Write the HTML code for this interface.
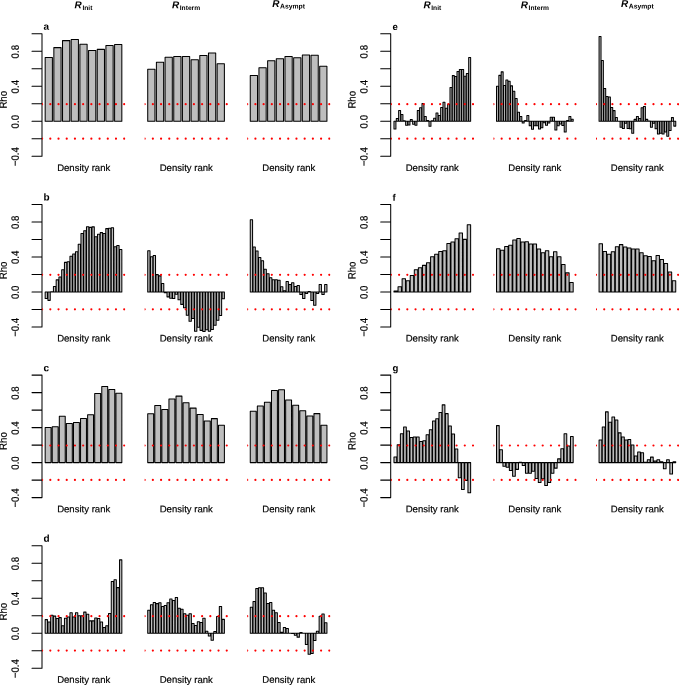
<!DOCTYPE html>
<html><head><meta charset="utf-8"><title>Figure</title>
<style>
html,body{margin:0;padding:0;background:#fff;overflow:hidden}
svg{display:block}
text{font-family:"Liberation Sans",Arial,Helvetica,sans-serif;fill:#000;text-rendering:geometricPrecision;stroke:#000;stroke-width:0.18px}
text[font-weight="bold"]{stroke:none}
</style></head><body>
<svg width="679" height="685" viewBox="0 0 679 685">
<rect width="679" height="685" fill="#fff"/>
<g>
<path d="M45.17 121.3V57.6h7.23V121.3zM53.85 121.3V47.62h7.23V121.3zM62.53 121.3V40.62h7.23V121.3zM71.2 121.3V39.57h7.23V121.3zM79.88 121.3V44.3h7.23V121.3zM88.56 121.3V50.42h7.23V121.3zM97.24 121.3V49.38h7.23V121.3zM105.92 121.3V45.44h7.23V121.3zM114.6 121.3V44.56h7.23V121.3z" fill="#bebebe" stroke="#000" stroke-width="1.03" stroke-linejoin="round"/>
<path d="M42 33.8V156.3M42 156.3H32M42 138.8H32M42 121.3H32M42 103.8H32M42 86.3H32M42 68.8H32M42 51.3H32M42 33.8H32" fill="none" stroke="#000" stroke-width="1.03" stroke-linecap="round"/>
<text transform="translate(18.8 156.7) rotate(-89.96) scale(1 1.09)" text-anchor="middle" font-size="9.65">−0.4</text>
<text transform="translate(18.8 121.7) rotate(-89.96) scale(1 1.09)" text-anchor="middle" font-size="9.65">0.0</text>
<text transform="translate(18.8 86.7) rotate(-89.96) scale(1 1.09)" text-anchor="middle" font-size="9.65">0.4</text>
<text transform="translate(18.8 51.7) rotate(-89.96) scale(1 1.09)" text-anchor="middle" font-size="9.65">0.8</text>
<text transform="translate(6.8 99.75) rotate(-89.96) scale(1 1.09)" text-anchor="middle" font-size="9.65">Rho</text>
<text transform="translate(43.6 29.85) rotate(0.03)" font-size="10" font-weight="bold">a</text>
<clipPath id="c1"><rect x="42.1" y="23.8" width="83.4" height="150"/></clipPath>
<line x1="42.1" x2="126.9" y1="104.16" y2="104.16" stroke="#ff0000" stroke-width="2.2" stroke-linecap="round" stroke-dasharray="0 8.21" clip-path="url(#c1)"/>
<line x1="42.1" x2="126.9" y1="138.64" y2="138.64" stroke="#ff0000" stroke-width="2.2" stroke-linecap="round" stroke-dasharray="0 8.21" clip-path="url(#c1)"/>
<text transform="translate(83.7 170.9) rotate(0.03)" text-anchor="middle" font-size="9.55">Density rank</text>
<text transform="translate(83.5 8.3) rotate(0.03)" text-anchor="middle" font-size="9.95" font-weight="bold"><tspan font-style="italic">R</tspan><tspan font-size="6.7" dy="1.6" dx="0.6">Init</tspan></text>
</g>
<g>
<path d="M147.72 121.3V69.33h7.23V121.3zM156.4 121.3V62.32h7.23V121.3zM165.08 121.3V57.34h7.23V121.3zM173.75 121.3V56.55h7.23V121.3zM182.43 121.3V56.55h7.23V121.3zM191.11 121.3V59.7h7.23V121.3zM199.79 121.3V55.5h7.23V121.3zM208.47 121.3V53.05h7.23V121.3zM217.15 121.3V63.64h7.23V121.3z" fill="#bebebe" stroke="#000" stroke-width="1.03" stroke-linejoin="round"/>
<clipPath id="c2"><rect x="144.65" y="23.8" width="83.4" height="150"/></clipPath>
<line x1="144.65" x2="229.45" y1="104.16" y2="104.16" stroke="#ff0000" stroke-width="2.2" stroke-linecap="round" stroke-dasharray="0 8.21" clip-path="url(#c2)"/>
<line x1="144.65" x2="229.45" y1="138.64" y2="138.64" stroke="#ff0000" stroke-width="2.2" stroke-linecap="round" stroke-dasharray="0 8.21" clip-path="url(#c2)"/>
<text transform="translate(186.25 170.9) rotate(0.03)" text-anchor="middle" font-size="9.55">Density rank</text>
<text transform="translate(186.05 8.3) rotate(0.03)" text-anchor="middle" font-size="9.95" font-weight="bold"><tspan font-style="italic">R</tspan><tspan font-size="6.7" dy="1.6" dx="0.6">Interm</tspan></text>
</g>
<g>
<path d="M250.27 121.3V75.45h7.23V121.3zM258.95 121.3V67.66h7.23V121.3zM267.63 121.3V60.66h7.23V121.3zM276.3 121.3V58.83h7.23V121.3zM284.98 121.3V56.55h7.23V121.3zM293.66 121.3V57.69h7.23V121.3zM302.34 121.3V55.06h7.23V121.3zM311.02 121.3V55.32h7.23V121.3zM319.7 121.3V66.17h7.23V121.3z" fill="#bebebe" stroke="#000" stroke-width="1.03" stroke-linejoin="round"/>
<clipPath id="c3"><rect x="247.2" y="23.8" width="83.4" height="150"/></clipPath>
<line x1="247.2" x2="332" y1="104.16" y2="104.16" stroke="#ff0000" stroke-width="2.2" stroke-linecap="round" stroke-dasharray="0 8.21" clip-path="url(#c3)"/>
<line x1="247.2" x2="332" y1="138.64" y2="138.64" stroke="#ff0000" stroke-width="2.2" stroke-linecap="round" stroke-dasharray="0 8.21" clip-path="url(#c3)"/>
<text transform="translate(288.8 170.9) rotate(0.03)" text-anchor="middle" font-size="9.55">Density rank</text>
<text transform="translate(288.6 6.95) rotate(0.03)" text-anchor="middle" font-size="9.95" font-weight="bold"><tspan font-style="italic">R</tspan><tspan font-size="6.8" dy="1.6" dx="0.6">Asympt</tspan></text>
</g>
<g>
<path d="M45.17 291.96V298.52h2.3V291.96zM47.92 291.96V300.36h2.3V291.96zM50.68 291.96V291.7h2.3V291.96zM53.43 291.96V286.53h2.3V291.96zM56.18 291.96V279.88h2.3V291.96zM58.94 291.96V276.91h2.3V291.96zM61.69 291.96V269.65h2.3V291.96zM64.45 291.96V262.38h2.3V291.96zM67.2 291.96V261.69h2.3V291.96zM69.96 291.96V256.17h2.3V291.96zM72.71 291.96V253.98h2.3V291.96zM75.47 291.96V251.8h2.3V291.96zM78.22 291.96V244.27h2.3V291.96zM80.98 291.96V233.6h2.3V291.96zM83.73 291.96V230.71h2.3V291.96zM86.48 291.96V226.68h2.3V291.96zM89.24 291.96V227.38h2.3V291.96zM91.99 291.96V226.86h2.3V291.96zM94.75 291.96V236.75h2.3V291.96zM97.5 291.96V234.3h2.3V291.96zM100.26 291.96V232.63h2.3V291.96zM103.01 291.96V233.6h2.3V291.96zM105.77 291.96V228.61h2.3V291.96zM108.52 291.96V228.26h2.3V291.96zM111.27 291.96V227.73h2.3V291.96zM114.03 291.96V246.81h2.3V291.96zM116.78 291.96V245.58h2.3V291.96zM119.54 291.96V249.52h2.3V291.96z" fill="#bebebe" stroke="#000" stroke-width="1.03" stroke-linejoin="round"/>
<path d="M42 204.46V326.96M42 326.96H32M42 309.46H32M42 291.96H32M42 274.46H32M42 256.96H32M42 239.46H32M42 221.96H32M42 204.46H32" fill="none" stroke="#000" stroke-width="1.03" stroke-linecap="round"/>
<text transform="translate(18.8 327.36) rotate(-89.96) scale(1 1.09)" text-anchor="middle" font-size="9.65">−0.4</text>
<text transform="translate(18.8 292.36) rotate(-89.96) scale(1 1.09)" text-anchor="middle" font-size="9.65">0.0</text>
<text transform="translate(18.8 257.36) rotate(-89.96) scale(1 1.09)" text-anchor="middle" font-size="9.65">0.4</text>
<text transform="translate(18.8 222.36) rotate(-89.96) scale(1 1.09)" text-anchor="middle" font-size="9.65">0.8</text>
<text transform="translate(6.8 270.41) rotate(-89.96) scale(1 1.09)" text-anchor="middle" font-size="9.65">Rho</text>
<text transform="translate(43.6 200.51) rotate(0.03)" font-size="10" font-weight="bold">b</text>
<clipPath id="c4"><rect x="42.1" y="194.46" width="83.4" height="150"/></clipPath>
<line x1="42.1" x2="126.9" y1="274.82" y2="274.82" stroke="#ff0000" stroke-width="2.2" stroke-linecap="round" stroke-dasharray="0 8.21" clip-path="url(#c4)"/>
<line x1="42.1" x2="126.9" y1="309.3" y2="309.3" stroke="#ff0000" stroke-width="2.2" stroke-linecap="round" stroke-dasharray="0 8.21" clip-path="url(#c4)"/>
<text transform="translate(83.7 341.56) rotate(0.03)" text-anchor="middle" font-size="9.55">Density rank</text>
</g>
<g>
<path d="M147.72 291.96V250.66h2.3V291.96zM150.47 291.96V256.7h2.3V291.96zM153.23 291.96V255.47h2.3V291.96zM155.98 291.96V274.63h2.3V291.96zM158.73 291.96V275.86h2.3V291.96zM161.49 291.96V283.47h2.3V291.96zM164.24 291.96V292.75h2.3V291.96zM167 291.96V296.86h2.3V291.96zM169.75 291.96V298.35h2.3V291.96zM172.51 291.96V298.52h2.3V291.96zM175.26 291.96V294.32h2.3V291.96zM178.02 291.96V299.75h2.3V291.96zM180.77 291.96V304.38h2.3V291.96zM183.53 291.96V307.8h2.3V291.96zM186.28 291.96V315.32h2.3V291.96zM189.03 291.96V321.27h2.3V291.96zM191.79 291.96V318.56h2.3V291.96zM194.54 291.96V331.33h2.3V291.96zM197.3 291.96V327.31h2.3V291.96zM200.05 291.96V330.37h2.3V291.96zM202.81 291.96V331.6h2.3V291.96zM205.56 291.96V329.85h2.3V291.96zM208.32 291.96V331.33h2.3V291.96zM211.07 291.96V329.5h2.3V291.96zM213.82 291.96V325.3h2.3V291.96zM216.58 291.96V320.31h2.3V291.96zM219.33 291.96V315.5h2.3V291.96zM222.09 291.96V298.7h2.3V291.96z" fill="#bebebe" stroke="#000" stroke-width="1.03" stroke-linejoin="round"/>
<clipPath id="c5"><rect x="144.65" y="194.46" width="83.4" height="150"/></clipPath>
<line x1="144.65" x2="229.45" y1="274.82" y2="274.82" stroke="#ff0000" stroke-width="2.2" stroke-linecap="round" stroke-dasharray="0 8.21" clip-path="url(#c5)"/>
<line x1="144.65" x2="229.45" y1="309.3" y2="309.3" stroke="#ff0000" stroke-width="2.2" stroke-linecap="round" stroke-dasharray="0 8.21" clip-path="url(#c5)"/>
<text transform="translate(186.25 341.56) rotate(0.03)" text-anchor="middle" font-size="9.55">Density rank</text>
</g>
<g>
<path d="M250.27 291.96V219.68h2.3V291.96zM253.02 291.96V246.9h2.3V291.96zM255.78 291.96V251.1h2.3V291.96zM258.53 291.96V257.57h2.3V291.96zM261.28 291.96V260.72h2.3V291.96zM264.04 291.96V269.3h2.3V291.96zM266.79 291.96V273.67h2.3V291.96zM269.55 291.96V277.78h2.3V291.96zM272.3 291.96V279.71h2.3V291.96zM275.06 291.96V279.71h2.3V291.96zM277.81 291.96V280.15h2.3V291.96zM280.57 291.96V286.8h2.3V291.96zM283.32 291.96V290.82h2.3V291.96zM286.08 291.96V281.55h2.3V291.96zM288.83 291.96V284.52h2.3V291.96zM291.58 291.96V282.69h2.3V291.96zM294.34 291.96V286.53h2.3V291.96zM297.09 291.96V285.57h2.3V291.96zM299.85 291.96V294.41h2.3V291.96zM302.6 291.96V298.44h2.3V291.96zM305.36 291.96V293.53h2.3V291.96zM308.11 291.96V291.43h2.3V291.96zM310.87 291.96V300.45h2.3V291.96zM313.62 291.96V305.26h2.3V291.96zM316.37 291.96V293.53h2.3V291.96zM319.13 291.96V284.52h2.3V291.96zM321.88 291.96V294.41h2.3V291.96zM324.64 291.96V284.52h2.3V291.96z" fill="#bebebe" stroke="#000" stroke-width="1.03" stroke-linejoin="round"/>
<clipPath id="c6"><rect x="247.2" y="194.46" width="83.4" height="150"/></clipPath>
<line x1="247.2" x2="332" y1="274.82" y2="274.82" stroke="#ff0000" stroke-width="2.2" stroke-linecap="round" stroke-dasharray="0 8.21" clip-path="url(#c6)"/>
<line x1="247.2" x2="332" y1="309.3" y2="309.3" stroke="#ff0000" stroke-width="2.2" stroke-linecap="round" stroke-dasharray="0 8.21" clip-path="url(#c6)"/>
<text transform="translate(288.8 341.56) rotate(0.03)" text-anchor="middle" font-size="9.55">Density rank</text>
</g>
<g>
<path d="M45.17 462.62V427.53h5.9V462.62zM52.24 462.62V426.83h5.9V462.62zM59.32 462.62V416.16h5.9V462.62zM66.4 462.62V423.51h5.9V462.62zM73.47 462.62V422.55h5.9V462.62zM80.55 462.62V418.52h5.9V462.62zM87.63 462.62V414.85h5.9V462.62zM94.71 462.62V393.5h5.9V462.62zM101.78 462.62V386.5h5.9V462.62zM108.86 462.62V389.47h5.9V462.62zM115.94 462.62V393.14h5.9V462.62z" fill="#bebebe" stroke="#000" stroke-width="1.03" stroke-linejoin="round"/>
<path d="M42 375.12V497.62M42 497.62H32M42 480.12H32M42 462.62H32M42 445.12H32M42 427.62H32M42 410.12H32M42 392.62H32M42 375.12H32" fill="none" stroke="#000" stroke-width="1.03" stroke-linecap="round"/>
<text transform="translate(18.8 498.02) rotate(-89.96) scale(1 1.09)" text-anchor="middle" font-size="9.65">−0.4</text>
<text transform="translate(18.8 463.02) rotate(-89.96) scale(1 1.09)" text-anchor="middle" font-size="9.65">0.0</text>
<text transform="translate(18.8 428.02) rotate(-89.96) scale(1 1.09)" text-anchor="middle" font-size="9.65">0.4</text>
<text transform="translate(18.8 393.02) rotate(-89.96) scale(1 1.09)" text-anchor="middle" font-size="9.65">0.8</text>
<text transform="translate(6.8 441.07) rotate(-89.96) scale(1 1.09)" text-anchor="middle" font-size="9.65">Rho</text>
<text transform="translate(43.6 371.17) rotate(0.03)" font-size="10" font-weight="bold">c</text>
<clipPath id="c7"><rect x="42.1" y="365.12" width="83.4" height="150"/></clipPath>
<line x1="42.1" x2="126.9" y1="445.48" y2="445.48" stroke="#ff0000" stroke-width="2.2" stroke-linecap="round" stroke-dasharray="0 8.21" clip-path="url(#c7)"/>
<line x1="42.1" x2="126.9" y1="479.96" y2="479.96" stroke="#ff0000" stroke-width="2.2" stroke-linecap="round" stroke-dasharray="0 8.21" clip-path="url(#c7)"/>
<text transform="translate(83.7 512.22) rotate(0.03)" text-anchor="middle" font-size="9.55">Density rank</text>
</g>
<g>
<path d="M147.72 462.62V413.8h5.9V462.62zM154.79 462.62V405.57h5.9V462.62zM161.87 462.62V409.6h5.9V462.62zM168.95 462.62V399.1h5.9V462.62zM176.02 462.62V396.12h5.9V462.62zM183.1 462.62V402.77h5.9V462.62zM190.18 462.62V408.11h5.9V462.62zM197.26 462.62V414.58h5.9V462.62zM204.33 462.62V420.97h5.9V462.62zM211.41 462.62V418.61h5.9V462.62zM218.49 462.62V425.26h5.9V462.62z" fill="#bebebe" stroke="#000" stroke-width="1.03" stroke-linejoin="round"/>
<clipPath id="c8"><rect x="144.65" y="365.12" width="83.4" height="150"/></clipPath>
<line x1="144.65" x2="229.45" y1="445.48" y2="445.48" stroke="#ff0000" stroke-width="2.2" stroke-linecap="round" stroke-dasharray="0 8.21" clip-path="url(#c8)"/>
<line x1="144.65" x2="229.45" y1="479.96" y2="479.96" stroke="#ff0000" stroke-width="2.2" stroke-linecap="round" stroke-dasharray="0 8.21" clip-path="url(#c8)"/>
<text transform="translate(186.25 512.22) rotate(0.03)" text-anchor="middle" font-size="9.55">Density rank</text>
</g>
<g>
<path d="M250.27 462.62V411.26h5.9V462.62zM257.34 462.62V406.1h5.9V462.62zM264.42 462.62V402.25h5.9V462.62zM271.5 462.62V390.43h5.9V462.62zM278.57 462.62V389.64h5.9V462.62zM285.65 462.62V399.97h5.9V462.62zM292.73 462.62V405.31h5.9V462.62zM299.81 462.62V410.73h5.9V462.62zM306.88 462.62V416.07h5.9V462.62zM313.96 462.62V413.62h5.9V462.62zM321.04 462.62V425.26h5.9V462.62z" fill="#bebebe" stroke="#000" stroke-width="1.03" stroke-linejoin="round"/>
<clipPath id="c9"><rect x="247.2" y="365.12" width="83.4" height="150"/></clipPath>
<line x1="247.2" x2="332" y1="445.48" y2="445.48" stroke="#ff0000" stroke-width="2.2" stroke-linecap="round" stroke-dasharray="0 8.21" clip-path="url(#c9)"/>
<line x1="247.2" x2="332" y1="479.96" y2="479.96" stroke="#ff0000" stroke-width="2.2" stroke-linecap="round" stroke-dasharray="0 8.21" clip-path="url(#c9)"/>
<text transform="translate(288.8 512.22) rotate(0.03)" text-anchor="middle" font-size="9.55">Density rank</text>
</g>
<g>
<path d="M45.17 633.28V619.63h2.3V633.28zM47.92 633.28V621.99h2.3V633.28zM50.68 633.28V615.25h2.3V633.28zM53.43 633.28V616.13h2.3V633.28zM56.18 633.28V618.58h2.3V633.28zM58.94 633.28V617.62h2.3V633.28zM61.69 633.28V625.75h2.3V633.28zM64.45 633.28V618.32h2.3V633.28zM67.2 633.28V617h2.3V633.28zM69.96 633.28V612.8h2.3V633.28zM72.71 633.28V617h2.3V633.28zM75.47 633.28V612.72h2.3V633.28zM78.22 633.28V615.69h2.3V633.28zM80.98 633.28V615.69h2.3V633.28zM83.73 633.28V612.11h2.3V633.28zM86.48 633.28V614.2h2.3V633.28zM89.24 633.28V620.86h2.3V633.28zM91.99 633.28V620.86h2.3V633.28zM94.75 633.28V617.97h2.3V633.28zM97.5 633.28V618.58h2.3V633.28zM100.26 633.28V621.99h2.3V633.28zM103.01 633.28V627.59h2.3V633.28zM105.77 633.28V625.84h2.3V633.28zM108.52 633.28V613.59h2.3V633.28zM111.27 633.28V581.57h2.3V633.28zM114.03 633.28V579.73h2.3V633.28zM116.78 633.28V587.61h2.3V633.28zM119.54 633.28V559.87h2.3V633.28z" fill="#bebebe" stroke="#000" stroke-width="1.03" stroke-linejoin="round"/>
<path d="M42 545.78V668.28M42 668.28H32M42 650.78H32M42 633.28H32M42 615.78H32M42 598.28H32M42 580.78H32M42 563.28H32M42 545.78H32" fill="none" stroke="#000" stroke-width="1.03" stroke-linecap="round"/>
<text transform="translate(18.8 668.68) rotate(-89.96) scale(1 1.09)" text-anchor="middle" font-size="9.65">−0.4</text>
<text transform="translate(18.8 633.68) rotate(-89.96) scale(1 1.09)" text-anchor="middle" font-size="9.65">0.0</text>
<text transform="translate(18.8 598.68) rotate(-89.96) scale(1 1.09)" text-anchor="middle" font-size="9.65">0.4</text>
<text transform="translate(18.8 563.68) rotate(-89.96) scale(1 1.09)" text-anchor="middle" font-size="9.65">0.8</text>
<text transform="translate(6.8 611.73) rotate(-89.96) scale(1 1.09)" text-anchor="middle" font-size="9.65">Rho</text>
<text transform="translate(43.6 541.83) rotate(0.03)" font-size="10" font-weight="bold">d</text>
<clipPath id="c10"><rect x="42.1" y="535.78" width="83.4" height="150"/></clipPath>
<line x1="42.1" x2="126.9" y1="616.14" y2="616.14" stroke="#ff0000" stroke-width="2.2" stroke-linecap="round" stroke-dasharray="0 8.21" clip-path="url(#c10)"/>
<line x1="42.1" x2="126.9" y1="650.62" y2="650.62" stroke="#ff0000" stroke-width="2.2" stroke-linecap="round" stroke-dasharray="0 8.21" clip-path="url(#c10)"/>
<text transform="translate(83.7 682.88) rotate(0.03)" text-anchor="middle" font-size="9.55">Density rank</text>
</g>
<g>
<path d="M147.72 633.28V610.27h2.3V633.28zM150.47 633.28V604.67h2.3V633.28zM153.23 633.28V602.39h2.3V633.28zM155.98 633.28V603.62h2.3V633.28zM158.73 633.28V602.74h2.3V633.28zM161.49 633.28V606.42h2.3V633.28zM164.24 633.28V605.54h2.3V633.28zM167 633.28V602.74h2.3V633.28zM169.75 633.28V598.89h2.3V633.28zM172.51 633.28V600.55h2.3V633.28zM175.26 633.28V597.4h2.3V633.28zM178.02 633.28V608.25h2.3V633.28zM180.77 633.28V609.3h2.3V633.28zM183.53 633.28V613.68h2.3V633.28zM186.28 633.28V615.34h2.3V633.28zM189.03 633.28V613.68h2.3V633.28zM191.79 633.28V623.48h2.3V633.28zM194.54 633.28V625.58h2.3V633.28zM197.3 633.28V621.64h2.3V633.28zM200.05 633.28V622.52h2.3V633.28zM202.81 633.28V618.32h2.3V633.28zM205.56 633.28V631.27h2.3V633.28zM208.32 633.28V635.9h2.3V633.28zM211.07 633.28V640.28h2.3V633.28zM213.82 633.28V631.53h2.3V633.28zM216.58 633.28V616.48h2.3V633.28zM219.33 633.28V606.5h2.3V633.28zM222.09 633.28V619.37h2.3V633.28z" fill="#bebebe" stroke="#000" stroke-width="1.03" stroke-linejoin="round"/>
<clipPath id="c11"><rect x="144.65" y="535.78" width="83.4" height="150"/></clipPath>
<line x1="144.65" x2="229.45" y1="616.14" y2="616.14" stroke="#ff0000" stroke-width="2.2" stroke-linecap="round" stroke-dasharray="0 8.21" clip-path="url(#c11)"/>
<line x1="144.65" x2="229.45" y1="650.62" y2="650.62" stroke="#ff0000" stroke-width="2.2" stroke-linecap="round" stroke-dasharray="0 8.21" clip-path="url(#c11)"/>
<text transform="translate(186.25 682.88) rotate(0.03)" text-anchor="middle" font-size="9.55">Density rank</text>
</g>
<g>
<path d="M250.27 633.28V607.2h2.3V633.28zM253.02 633.28V601.43h2.3V633.28zM255.78 633.28V588.57h2.3V633.28zM258.53 633.28V587.69h2.3V633.28zM261.28 633.28V587.69h2.3V633.28zM264.04 633.28V592.94h2.3V633.28zM266.79 633.28V603.44h2.3V633.28zM269.55 633.28V602.39h2.3V633.28zM272.3 633.28V610.27h2.3V633.28zM275.06 633.28V612.72h2.3V633.28zM277.81 633.28V622.52h2.3V633.28zM280.57 633.28V632.14h2.3V633.28zM283.32 633.28V627.5h2.3V633.28zM286.08 633.28V628.47h2.3V633.28zM288.83 633.28V633.28h2.3V633.28zM291.58 633.28V633.54h2.3V633.28zM294.34 633.28V635.29h2.3V633.28zM297.09 633.28V637.13h2.3V633.28zM299.85 633.28V632.4h2.3V633.28zM302.6 633.28V633.28h2.3V633.28zM305.36 633.28V644.48h2.3V633.28zM308.11 633.28V654.28h2.3V633.28zM310.87 633.28V653.49h2.3V633.28zM313.62 633.28V640.45h2.3V633.28zM316.37 633.28V631.27h2.3V633.28zM319.13 633.28V616.22h2.3V633.28zM321.88 633.28V614.03h2.3V633.28zM324.64 633.28V622.69h2.3V633.28z" fill="#bebebe" stroke="#000" stroke-width="1.03" stroke-linejoin="round"/>
<clipPath id="c12"><rect x="247.2" y="535.78" width="83.4" height="150"/></clipPath>
<line x1="247.2" x2="332" y1="616.14" y2="616.14" stroke="#ff0000" stroke-width="2.2" stroke-linecap="round" stroke-dasharray="0 8.21" clip-path="url(#c12)"/>
<line x1="247.2" x2="332" y1="650.62" y2="650.62" stroke="#ff0000" stroke-width="2.2" stroke-linecap="round" stroke-dasharray="0 8.21" clip-path="url(#c12)"/>
<text transform="translate(288.8 682.88) rotate(0.03)" text-anchor="middle" font-size="9.55">Density rank</text>
</g>
<g>
<path d="M393.97 121.3V129h1.95V121.3zM396.3 121.3V118.5h1.95V121.3zM398.64 121.3V110.54h1.95V121.3zM400.97 121.3V114.56h1.95V121.3zM403.31 121.3V120.77h1.95V121.3zM405.64 121.3V125.15h1.95V121.3zM407.98 121.3V124.97h1.95V121.3zM410.31 121.3V119.55h1.95V121.3zM412.65 121.3V124.28h1.95V121.3zM414.98 121.3V125.15h1.95V121.3zM417.32 121.3V110.54h1.95V121.3zM419.65 121.3V107.65h1.95V121.3zM421.99 121.3V103.62h1.95V121.3zM424.32 121.3V116.4h1.95V121.3zM426.66 121.3V120.51h1.95V121.3zM428.99 121.3V126.2h1.95V121.3zM431.33 121.3V120.69h1.95V121.3zM433.66 121.3V118.32h1.95V121.3zM436 121.3V112.99h1.95V121.3zM438.33 121.3V115.52h1.95V121.3zM440.67 121.3V107.39h1.95V121.3zM443 121.3V102.22h1.95V121.3zM445.34 121.3V108.26h1.95V121.3zM447.67 121.3V104.24h1.95V121.3zM450.01 121.3V87.53h1.95V121.3zM452.34 121.3V75.62h1.95V121.3zM454.68 121.3V76.59h1.95V121.3zM457.01 121.3V71.6h1.95V121.3zM459.35 121.3V69.59h1.95V121.3zM461.68 121.3V69.59h1.95V121.3zM464.02 121.3V76.24h1.95V121.3zM466.35 121.3V73.44h1.95V121.3zM468.69 121.3V57.51h1.95V121.3z" fill="#bebebe" stroke="#000" stroke-width="1.03" stroke-linejoin="round"/>
<path d="M390.7 33.8V156.3M390.7 156.3H380.7M390.7 138.8H380.7M390.7 121.3H380.7M390.7 103.8H380.7M390.7 86.3H380.7M390.7 68.8H380.7M390.7 51.3H380.7M390.7 33.8H380.7" fill="none" stroke="#000" stroke-width="1.03" stroke-linecap="round"/>
<text transform="translate(367.4 156.7) rotate(-89.96) scale(1 1.09)" text-anchor="middle" font-size="9.65">−0.4</text>
<text transform="translate(367.4 121.7) rotate(-89.96) scale(1 1.09)" text-anchor="middle" font-size="9.65">0.0</text>
<text transform="translate(367.4 86.7) rotate(-89.96) scale(1 1.09)" text-anchor="middle" font-size="9.65">0.4</text>
<text transform="translate(367.4 51.7) rotate(-89.96) scale(1 1.09)" text-anchor="middle" font-size="9.65">0.8</text>
<text transform="translate(355.6 99.75) rotate(-89.96) scale(1 1.09)" text-anchor="middle" font-size="9.65">Rho</text>
<text transform="translate(392.4 30) rotate(0.03)" font-size="9.6" font-weight="bold">e</text>
<clipPath id="c13"><rect x="390.9" y="23.8" width="83.4" height="150"/></clipPath>
<line x1="390.9" x2="475.7" y1="104.16" y2="104.16" stroke="#ff0000" stroke-width="2.2" stroke-linecap="round" stroke-dasharray="0 8.21" clip-path="url(#c13)"/>
<line x1="390.9" x2="475.7" y1="138.64" y2="138.64" stroke="#ff0000" stroke-width="2.2" stroke-linecap="round" stroke-dasharray="0 8.21" clip-path="url(#c13)"/>
<text transform="translate(432.25 170.9) rotate(0.03)" text-anchor="middle" font-size="9.55">Density rank</text>
<text transform="translate(432.3 8.3) rotate(0.03)" text-anchor="middle" font-size="9.95" font-weight="bold"><tspan font-style="italic">R</tspan><tspan font-size="6.7" dy="1.6" dx="0.6">Init</tspan></text>
</g>
<g>
<path d="M496.52 121.3V86.3h1.95V121.3zM498.85 121.3V75.36h1.95V121.3zM501.19 121.3V71.86h1.95V121.3zM503.52 121.3V85.43h1.95V121.3zM505.86 121.3V80h1.95V121.3zM508.19 121.3V81.22h1.95V121.3zM510.53 121.3V85.86h1.95V121.3zM512.86 121.3V91.29h1.95V121.3zM515.2 121.3V98.46h1.95V121.3zM517.53 121.3V112.29h1.95V121.3zM519.87 121.3V116.4h1.95V121.3zM522.2 121.3V122.96h1.95V121.3zM524.54 121.3V120.51h1.95V121.3zM526.87 121.3V115.52h1.95V121.3zM529.21 121.3V125.85h1.95V121.3zM531.54 121.3V129.35h1.95V121.3zM533.88 121.3V125.85h1.95V121.3zM536.21 121.3V125.85h1.95V121.3zM538.55 121.3V129h1.95V121.3zM540.88 121.3V127.69h1.95V121.3zM543.22 121.3V122.7h1.95V121.3zM545.55 121.3V125.15h1.95V121.3zM547.89 121.3V123.05h1.95V121.3zM550.22 121.3V117.27h1.95V121.3zM552.56 121.3V117.27h1.95V121.3zM554.89 121.3V129.96h1.95V121.3zM557.23 121.3V125.85h1.95V121.3zM559.56 121.3V123.92h1.95V121.3zM561.9 121.3V125.41h1.95V121.3zM564.23 121.3V131.89h1.95V121.3zM566.57 121.3V120.51h1.95V121.3zM568.9 121.3V116.4h1.95V121.3zM571.24 121.3V119.29h1.95V121.3z" fill="#bebebe" stroke="#000" stroke-width="1.03" stroke-linejoin="round"/>
<clipPath id="c14"><rect x="493.45" y="23.8" width="83.4" height="150"/></clipPath>
<line x1="493.45" x2="578.25" y1="104.16" y2="104.16" stroke="#ff0000" stroke-width="2.2" stroke-linecap="round" stroke-dasharray="0 8.21" clip-path="url(#c14)"/>
<line x1="493.45" x2="578.25" y1="138.64" y2="138.64" stroke="#ff0000" stroke-width="2.2" stroke-linecap="round" stroke-dasharray="0 8.21" clip-path="url(#c14)"/>
<text transform="translate(534.8 170.9) rotate(0.03)" text-anchor="middle" font-size="9.55">Density rank</text>
<text transform="translate(534.85 8.3) rotate(0.03)" text-anchor="middle" font-size="9.95" font-weight="bold"><tspan font-style="italic">R</tspan><tspan font-size="6.7" dy="1.6" dx="0.6">Interm</tspan></text>
</g>
<g>
<path d="M599.07 121.3V36.6h1.95V121.3zM601.4 121.3V60.58h1.95V121.3zM603.74 121.3V88.4h1.95V121.3zM606.07 121.3V96.54h1.95V121.3zM608.41 121.3V96.97h1.95V121.3zM610.74 121.3V107.47h1.95V121.3zM613.08 121.3V110.62h1.95V121.3zM615.41 121.3V117.54h1.95V121.3zM617.75 121.3V121.3h1.95V121.3zM620.08 121.3V127.34h1.95V121.3zM622.42 121.3V128.56h1.95V121.3zM624.75 121.3V123.31h1.95V121.3zM627.09 121.3V128.56h1.95V121.3zM629.42 121.3V128.82h1.95V121.3zM631.76 121.3V133.2h1.95V121.3zM634.09 121.3V119.38h1.95V121.3zM636.43 121.3V116.4h1.95V121.3zM638.76 121.3V118.5h1.95V121.3zM641.1 121.3V107.65h1.95V121.3zM643.43 121.3V106.6h1.95V121.3zM645.77 121.3V119.38h1.95V121.3zM648.1 121.3V120.95h1.95V121.3zM650.44 121.3V127.34h1.95V121.3zM652.77 121.3V123.31h1.95V121.3zM655.11 121.3V128.82h1.95V121.3zM657.44 121.3V133.99h1.95V121.3zM659.78 121.3V133.2h1.95V121.3zM662.11 121.3V133.99h1.95V121.3zM664.45 121.3V131.97h1.95V121.3zM666.78 121.3V136.35h1.95V121.3zM669.12 121.3V130.49h1.95V121.3zM671.45 121.3V117.62h1.95V121.3zM673.79 121.3V126.11h1.95V121.3z" fill="#bebebe" stroke="#000" stroke-width="1.03" stroke-linejoin="round"/>
<clipPath id="c15"><rect x="596" y="23.8" width="83.4" height="150"/></clipPath>
<line x1="596" x2="680.8" y1="104.16" y2="104.16" stroke="#ff0000" stroke-width="2.2" stroke-linecap="round" stroke-dasharray="0 8.21" clip-path="url(#c15)"/>
<line x1="596" x2="680.8" y1="138.64" y2="138.64" stroke="#ff0000" stroke-width="2.2" stroke-linecap="round" stroke-dasharray="0 8.21" clip-path="url(#c15)"/>
<text transform="translate(637.35 170.9) rotate(0.03)" text-anchor="middle" font-size="9.55">Density rank</text>
<text transform="translate(637.4 6.95) rotate(0.03)" text-anchor="middle" font-size="9.95" font-weight="bold"><tspan font-style="italic">R</tspan><tspan font-size="6.8" dy="1.6" dx="0.6">Asympt</tspan></text>
</g>
<g>
<path d="M393.97 291.96V291h3.39V291.96zM398.04 291.96V286.71h3.39V291.96zM402.11 291.96V278.75h3.39V291.96zM406.18 291.96V280.67h3.39V291.96zM410.25 291.96V275.42h3.39V291.96zM414.32 291.96V269.65h3.39V291.96zM418.39 291.96V267.72h3.39V291.96zM422.46 291.96V265.36h3.39V291.96zM426.53 291.96V262.82h3.39V291.96zM430.6 291.96V256.78h3.39V291.96zM434.67 291.96V254.33h3.39V291.96zM438.75 291.96V251.45h3.39V291.96zM442.82 291.96V250.75h3.39V291.96zM446.89 291.96V243.4h3.39V291.96zM450.96 291.96V242h3.39V291.96zM455.03 291.96V238.85h3.39V291.96zM459.1 291.96V232.98h3.39V291.96zM463.17 291.96V239.37h3.39V291.96zM467.24 291.96V224.76h3.39V291.96z" fill="#bebebe" stroke="#000" stroke-width="1.03" stroke-linejoin="round"/>
<path d="M390.7 204.46V326.96M390.7 326.96H380.7M390.7 309.46H380.7M390.7 291.96H380.7M390.7 274.46H380.7M390.7 256.96H380.7M390.7 239.46H380.7M390.7 221.96H380.7M390.7 204.46H380.7" fill="none" stroke="#000" stroke-width="1.03" stroke-linecap="round"/>
<text transform="translate(367.4 327.36) rotate(-89.96) scale(1 1.09)" text-anchor="middle" font-size="9.65">−0.4</text>
<text transform="translate(367.4 292.36) rotate(-89.96) scale(1 1.09)" text-anchor="middle" font-size="9.65">0.0</text>
<text transform="translate(367.4 257.36) rotate(-89.96) scale(1 1.09)" text-anchor="middle" font-size="9.65">0.4</text>
<text transform="translate(367.4 222.36) rotate(-89.96) scale(1 1.09)" text-anchor="middle" font-size="9.65">0.8</text>
<text transform="translate(355.6 270.41) rotate(-89.96) scale(1 1.09)" text-anchor="middle" font-size="9.65">Rho</text>
<text transform="translate(392.4 200.66) rotate(0.03)" font-size="9.6" font-weight="bold">f</text>
<clipPath id="c16"><rect x="390.9" y="194.46" width="83.4" height="150"/></clipPath>
<line x1="390.9" x2="475.7" y1="274.82" y2="274.82" stroke="#ff0000" stroke-width="2.2" stroke-linecap="round" stroke-dasharray="0 8.21" clip-path="url(#c16)"/>
<line x1="390.9" x2="475.7" y1="309.3" y2="309.3" stroke="#ff0000" stroke-width="2.2" stroke-linecap="round" stroke-dasharray="0 8.21" clip-path="url(#c16)"/>
<text transform="translate(432.25 341.56) rotate(0.03)" text-anchor="middle" font-size="9.55">Density rank</text>
</g>
<g>
<path d="M496.52 291.96V248.65h3.39V291.96zM500.59 291.96V250.31h3.39V291.96zM504.66 291.96V246.55h3.39V291.96zM508.73 291.96V245.23h3.39V291.96zM512.8 291.96V240.07h3.39V291.96zM516.87 291.96V238.58h3.39V291.96zM520.94 291.96V242.08h3.39V291.96zM525.01 291.96V241.73h3.39V291.96zM529.08 291.96V243.92h3.39V291.96zM533.15 291.96V243.92h3.39V291.96zM537.22 291.96V248.91h3.39V291.96zM541.3 291.96V252.67h3.39V291.96zM545.37 291.96V250.75h3.39V291.96zM549.44 291.96V256.78h3.39V291.96zM553.51 291.96V251.8h3.39V291.96zM557.58 291.96V256.78h3.39V291.96zM561.65 291.96V264.57h3.39V291.96zM565.72 291.96V272.88h3.39V291.96zM569.79 291.96V282.51h3.39V291.96z" fill="#bebebe" stroke="#000" stroke-width="1.03" stroke-linejoin="round"/>
<clipPath id="c17"><rect x="493.45" y="194.46" width="83.4" height="150"/></clipPath>
<line x1="493.45" x2="578.25" y1="274.82" y2="274.82" stroke="#ff0000" stroke-width="2.2" stroke-linecap="round" stroke-dasharray="0 8.21" clip-path="url(#c17)"/>
<line x1="493.45" x2="578.25" y1="309.3" y2="309.3" stroke="#ff0000" stroke-width="2.2" stroke-linecap="round" stroke-dasharray="0 8.21" clip-path="url(#c17)"/>
<text transform="translate(534.8 341.56) rotate(0.03)" text-anchor="middle" font-size="9.55">Density rank</text>
</g>
<g>
<path d="M599.07 291.96V243.66h3.39V291.96zM603.14 291.96V251.53h3.39V291.96zM607.21 291.96V254.33h3.39V291.96zM611.28 291.96V251.8h3.39V291.96zM615.35 291.96V246.81h3.39V291.96zM619.42 291.96V244.62h3.39V291.96zM623.49 291.96V246.98h3.39V291.96zM627.56 291.96V248.03h3.39V291.96zM631.63 291.96V248.91h3.39V291.96zM635.7 291.96V248.91h3.39V291.96zM639.77 291.96V252.76h3.39V291.96zM643.85 291.96V255.82h3.39V291.96zM647.92 291.96V256.43h3.39V291.96zM651.99 291.96V260.81h3.39V291.96zM656.06 291.96V255.56h3.39V291.96zM660.13 291.96V259.58h3.39V291.96zM664.2 291.96V263.43h3.39V291.96zM668.27 291.96V272.1h3.39V291.96zM672.34 291.96V280.85h3.39V291.96z" fill="#bebebe" stroke="#000" stroke-width="1.03" stroke-linejoin="round"/>
<clipPath id="c18"><rect x="596" y="194.46" width="83.4" height="150"/></clipPath>
<line x1="596" x2="680.8" y1="274.82" y2="274.82" stroke="#ff0000" stroke-width="2.2" stroke-linecap="round" stroke-dasharray="0 8.21" clip-path="url(#c18)"/>
<line x1="596" x2="680.8" y1="309.3" y2="309.3" stroke="#ff0000" stroke-width="2.2" stroke-linecap="round" stroke-dasharray="0 8.21" clip-path="url(#c18)"/>
<text transform="translate(637.35 341.56) rotate(0.03)" text-anchor="middle" font-size="9.55">Density rank</text>
</g>
<g>
<path d="M393.97 462.62V456.93h2.68V462.62zM397.18 462.62V444.77h2.68V462.62zM400.4 462.62V433.83h2.68V462.62zM403.62 462.62V427.01h2.68V462.62zM406.83 462.62V430.94h2.68V462.62zM410.05 462.62V437.6h2.68V462.62zM413.27 462.62V436.89h2.68V462.62zM416.48 462.62V436.89h2.68V462.62zM419.7 462.62V441.44h2.68V462.62zM422.92 462.62V440.75h2.68V462.62zM426.13 462.62V434.71h2.68V462.62zM429.35 462.62V429.72h2.68V462.62zM432.57 462.62V420.97h2.68V462.62zM435.78 462.62V418.78h2.68V462.62zM439 462.62V412.57h2.68V462.62zM442.22 462.62V404.87h2.68V462.62zM445.44 462.62V413.62h2.68V462.62zM448.65 462.62V425.96h2.68V462.62zM451.87 462.62V434.1h2.68V462.62zM455.09 462.62V448.97h2.68V462.62zM458.3 462.62V477.67h2.68V462.62zM461.52 462.62V489.57h2.68V462.62zM464.74 462.62V480.38h2.68V462.62zM467.95 462.62V492.72h2.68V462.62z" fill="#bebebe" stroke="#000" stroke-width="1.03" stroke-linejoin="round"/>
<path d="M390.7 375.12V497.62M390.7 497.62H380.7M390.7 480.12H380.7M390.7 462.62H380.7M390.7 445.12H380.7M390.7 427.62H380.7M390.7 410.12H380.7M390.7 392.62H380.7M390.7 375.12H380.7" fill="none" stroke="#000" stroke-width="1.03" stroke-linecap="round"/>
<text transform="translate(367.4 498.02) rotate(-89.96) scale(1 1.09)" text-anchor="middle" font-size="9.65">−0.4</text>
<text transform="translate(367.4 463.02) rotate(-89.96) scale(1 1.09)" text-anchor="middle" font-size="9.65">0.0</text>
<text transform="translate(367.4 428.02) rotate(-89.96) scale(1 1.09)" text-anchor="middle" font-size="9.65">0.4</text>
<text transform="translate(367.4 393.02) rotate(-89.96) scale(1 1.09)" text-anchor="middle" font-size="9.65">0.8</text>
<text transform="translate(355.6 441.07) rotate(-89.96) scale(1 1.09)" text-anchor="middle" font-size="9.65">Rho</text>
<text transform="translate(392.4 371.32) rotate(0.03)" font-size="9.6" font-weight="bold">g</text>
<clipPath id="c19"><rect x="390.9" y="365.12" width="83.4" height="150"/></clipPath>
<line x1="390.9" x2="475.7" y1="445.48" y2="445.48" stroke="#ff0000" stroke-width="2.2" stroke-linecap="round" stroke-dasharray="0 8.21" clip-path="url(#c19)"/>
<line x1="390.9" x2="475.7" y1="479.96" y2="479.96" stroke="#ff0000" stroke-width="2.2" stroke-linecap="round" stroke-dasharray="0 8.21" clip-path="url(#c19)"/>
<text transform="translate(432.25 512.22) rotate(0.03)" text-anchor="middle" font-size="9.55">Density rank</text>
</g>
<g>
<path d="M496.52 462.62V425.61h2.68V462.62zM499.73 462.62V449.67h2.68V462.62zM502.95 462.62V466.3h2.68V462.62zM506.17 462.62V467.26h2.68V462.62zM509.38 462.62V470.41h2.68V462.62zM512.6 462.62V476.27h2.68V462.62zM515.82 462.62V469.36h2.68V462.62zM519.03 462.62V462.18h2.68V462.62zM522.25 462.62V465.42h2.68V462.62zM525.47 462.62V473.29h2.68V462.62zM528.68 462.62V473.29h2.68V462.62zM531.9 462.62V471.28h2.68V462.62zM535.12 462.62V478.55h2.68V462.62zM538.33 462.62V482.57h2.68V462.62zM541.55 462.62V478.81h2.68V462.62zM544.77 462.62V485.46h2.68V462.62zM547.99 462.62V482.57h2.68V462.62zM551.2 462.62V473.29h2.68V462.62zM554.42 462.62V468.13h2.68V462.62zM557.64 462.62V458.86h2.68V462.62zM560.85 462.62V448.71h2.68V462.62zM564.07 462.62V433.66h2.68V462.62zM567.29 462.62V445.91h2.68V462.62zM570.5 462.62V436.55h2.68V462.62z" fill="#bebebe" stroke="#000" stroke-width="1.03" stroke-linejoin="round"/>
<clipPath id="c20"><rect x="493.45" y="365.12" width="83.4" height="150"/></clipPath>
<line x1="493.45" x2="578.25" y1="445.48" y2="445.48" stroke="#ff0000" stroke-width="2.2" stroke-linecap="round" stroke-dasharray="0 8.21" clip-path="url(#c20)"/>
<line x1="493.45" x2="578.25" y1="479.96" y2="479.96" stroke="#ff0000" stroke-width="2.2" stroke-linecap="round" stroke-dasharray="0 8.21" clip-path="url(#c20)"/>
<text transform="translate(534.8 512.22) rotate(0.03)" text-anchor="middle" font-size="9.55">Density rank</text>
</g>
<g>
<path d="M599.07 462.62V440.05h2.68V462.62zM602.28 462.62V427.01h2.68V462.62zM605.5 462.62V411.87h2.68V462.62zM608.72 462.62V422.19h2.68V462.62zM611.93 462.62V416.94h2.68V462.62zM615.15 462.62V419.92h2.68V462.62zM618.37 462.62V432.87h2.68V462.62zM621.58 462.62V436.89h2.68V462.62zM624.8 462.62V440.05h2.68V462.62zM628.02 462.62V439.52h2.68V462.62zM631.23 462.62V445.03h2.68V462.62zM634.45 462.62V456.06h2.68V462.62zM637.67 462.62V451.94h2.68V462.62zM640.88 462.62V452.73h2.68V462.62zM644.1 462.62V462.36h2.68V462.62zM647.32 462.62V459.64h2.68V462.62zM650.54 462.62V457.11h2.68V462.62zM653.75 462.62V461.13h2.68V462.62zM656.97 462.62V459.64h2.68V462.62zM660.19 462.62V461.75h2.68V462.62zM663.4 462.62V468.66h2.68V462.62zM666.62 462.62V459.82h2.68V462.62zM669.84 462.62V474.08h2.68V462.62zM673.05 462.62V461.75h2.68V462.62z" fill="#bebebe" stroke="#000" stroke-width="1.03" stroke-linejoin="round"/>
<clipPath id="c21"><rect x="596" y="365.12" width="83.4" height="150"/></clipPath>
<line x1="596" x2="680.8" y1="445.48" y2="445.48" stroke="#ff0000" stroke-width="2.2" stroke-linecap="round" stroke-dasharray="0 8.21" clip-path="url(#c21)"/>
<line x1="596" x2="680.8" y1="479.96" y2="479.96" stroke="#ff0000" stroke-width="2.2" stroke-linecap="round" stroke-dasharray="0 8.21" clip-path="url(#c21)"/>
<text transform="translate(637.35 512.22) rotate(0.03)" text-anchor="middle" font-size="9.55">Density rank</text>
</g>
</svg>
</body></html>
